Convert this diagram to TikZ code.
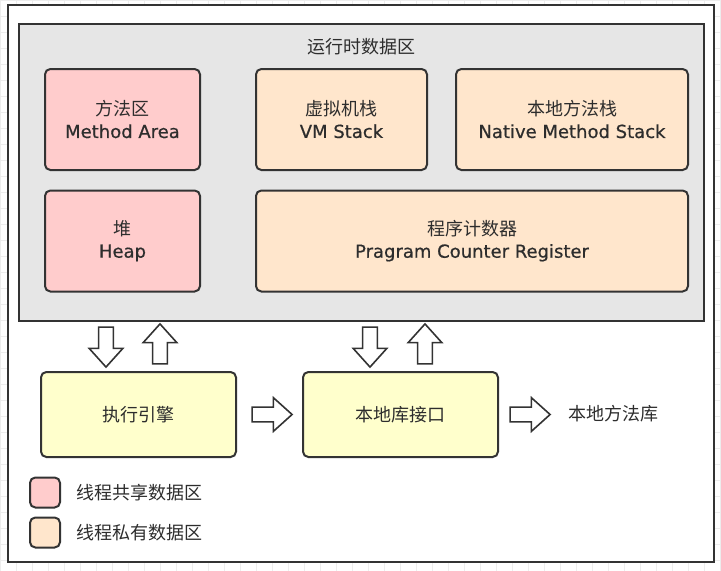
\documentclass[tikz,border=0pt]{standalone}
\usepackage{fontspec}
\setmainfont{Noto Sans CJK SC}
\newfontfamily\latinfont[FakeBold=0.6]{DejaVu Sans}
\usetikzlibrary{positioning,shapes.arrows}
\definecolor{EdgeGray}{RGB}{51,51,51}
\definecolor{TextGray}{RGB}{45,45,45}
\definecolor{SharedPink}{RGB}{255,204,204}
\definecolor{PrivatePeach}{RGB}{255,230,204}
\definecolor{EngineYellow}{RGB}{255,255,204}
\definecolor{AreaGray}{RGB}{230,230,230}

\begin{document}
\begin{tikzpicture}[x=0.75pt, y=-0.75pt, every node/.style={font=\fontsize{13.5}{16.5}\selectfont, align=center, text=TextGray}]
\tikzset{
  region/.style={draw=EdgeGray, line width=1.5pt, rounded corners=4pt, minimum height=75.75pt},
  shared/.style={region, fill=SharedPink},
  private/.style={region, fill=PrivatePeach},
  engine/.style={draw=EdgeGray, line width=1.5pt, rounded corners=4pt, fill=EngineYellow, minimum width=146.25pt, minimum height=63.75pt},
  hollow/.style={single arrow, draw=EdgeGray, line width=1.2pt, fill=white, inner sep=0pt, inner ysep=4.9pt, single arrow head extend=7.1pt, single arrow tip angle=84, minimum height=30pt},
  keybox/.style={draw=EdgeGray, line width=1.5pt, rounded corners=4pt, minimum size=22.5pt, inner sep=0pt}
}
  \useasboundingbox (0,0) rectangle (721,571);
  \fill[white] (0,0) rectangle (721,571);
  \draw[black!7, line width=0.4pt, step=12pt] (0,0) grid (721,571);

  % frames
  \node[draw=EdgeGray, line width=1.5pt, fill=white, minimum width=529.5pt, minimum height=417.75pt] (frame) at (361,283.5) {};
  \node[draw=EdgeGray, line width=1.5pt, fill=AreaGray, minimum width=513.75pt, minimum height=222.75pt] (runtime) at (361.5,172.5) {};
  \node (title) at (361,47) {运行时数据区};

  % runtime data areas
  \node[shared, minimum width=116.25pt] (method) at (122.5,119.5) {方法区\\\latinfont Method Area};
  \node[private, minimum width=128.25pt] (vmstack) at (341.5,119.5) {虚拟机栈\\\latinfont VM Stack};
  \node[private, minimum width=174pt] (nativestack) at (572,119.5) {本地方法栈\\\latinfont Native Method Stack};
  \node[shared, minimum width=116.25pt] (heap) at (122.5,241) {堆\\\latinfont Heap};
  \node[private, minimum width=324pt] (pc) at (472,241) {程序计数器\\\latinfont Pragram Counter Register};

  % execution side
  \node[engine] (exec) at (138.5,414.5) {执行引擎};
  \node[engine] (jni) at (400.5,414.5) {本地库接口};
  \node (nativelib) at (613,414) {本地方法库};

  \node[hollow, rotate=-90] (execdown) at (106,343) {};
  \node[hollow, rotate=90] (execup) at (160,348) {};
  \node[hollow, rotate=-90] (jnidown) at (370,343) {};
  \node[hollow, rotate=90] (jniup) at (425,348) {};
  \node[hollow] (tojni) at (268,414.5) {};
  \node[hollow] (tolib) at (526,414.5) {};

  % legend
  \node[keybox, fill=SharedPink] (sharedkey) at (45,492.5) {};
  \node[keybox, fill=PrivatePeach] (privatekey) at (45,532.5) {};
  \node[anchor=west] (sharedtext) at (72,492.5) {线程共享数据区};
  \node[anchor=west] (privatetext) at (72,532.5) {线程私有数据区};
\end{tikzpicture}
\end{document}
